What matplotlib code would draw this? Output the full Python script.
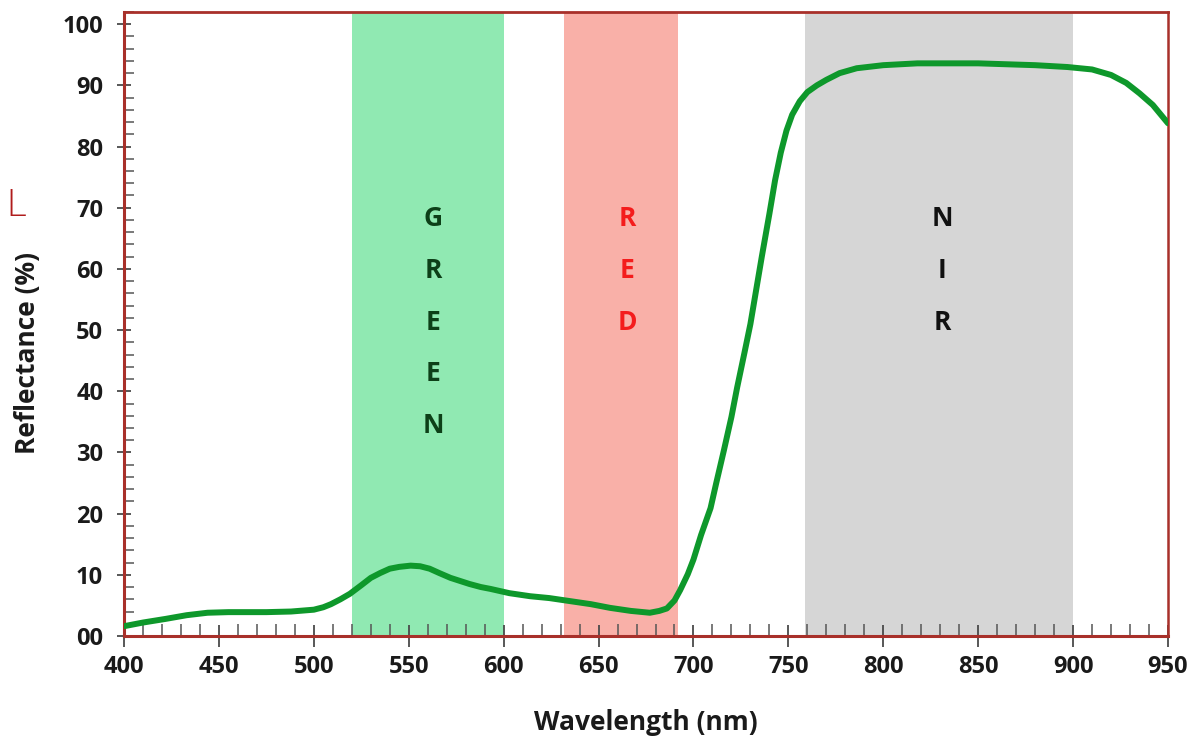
import matplotlib
matplotlib.use("Agg")
import matplotlib.pyplot as plt
from matplotlib.ticker import MultipleLocator, FixedLocator

# ---- data ----
wavelength = [400, 410, 422, 433, 444, 455, 465, 475, 488, 500, 505, 509, 514, 519,
              525, 530, 535, 540, 545, 551, 556, 561, 566, 572, 577, 582, 588, 593,
              603, 614, 624, 635, 646, 656, 667, 677, 682, 686, 690, 693, 697, 700,
              704, 709, 712, 716, 720, 723, 727, 730, 733, 736, 740, 743, 746, 749,
              752, 756, 760, 765, 770, 777, 786, 800, 818, 850, 880, 897, 910, 920,
              928, 935, 942, 950]
reflectance = [1.6, 2.2, 2.8, 3.4, 3.8, 3.9, 3.9, 3.9, 4.0, 4.3, 4.7, 5.2, 6.0, 6.9,
               8.3, 9.5, 10.3, 11.0, 11.3, 11.5, 11.4, 11.0, 10.3, 9.5, 9.0, 8.5, 8.0, 7.7,
               7.0, 6.5, 6.2, 5.7, 5.2, 4.6, 4.1, 3.8, 4.1, 4.5, 5.8, 7.5, 10.1, 12.5,
               16.5, 20.9, 25.0, 30.3, 35.8, 40.6, 46.5, 51.0, 56.5, 62.0, 69.0, 74.5, 79.0, 82.6,
               85.2, 87.4, 88.9, 90.0, 90.9, 92.0, 92.8, 93.3, 93.6, 93.6, 93.3, 93.0, 92.6, 91.7,
               90.4, 88.7, 86.8, 83.8]

bands = [(520, 600), (632, 692), (759, 900)]
band_colors = ["#90e9b2", "#f9b0a8", "#d6d6d6"]
band_labels = ["GREEN", "RED", "NIR"]
band_label_x = [563, 665, 831]
band_label_colors = ["#0d3f18", "#f41c1c", "#111111"]

x_ticks = [400, 450, 500, 550, 600, 650, 700, 750, 800, 850, 900, 950]
y_ticks = [0, 10, 20, 30, 40, 50, 60, 70, 80, 90, 100]
y_tick_labels = ["00", "10", "20", "30", "40", "50", "60", "70", "80", "90", "100"]

# ---- figure ----
plt.rcParams['font.family'] = ['Open Sans', 'DejaVu Sans']
fig = plt.figure(figsize=(12.03, 7.47), dpi=100)
ax = fig.add_axes([0.1031, 0.1486, 0.8678, 0.8354])

for (x0, x1), c in zip(bands, band_colors):
    ax.axvspan(x0, x1, color=c, lw=0, zorder=0)

ax.plot(wavelength, reflectance, color="#0e982b", lw=4.3, solid_capstyle="round",
        solid_joinstyle="round", zorder=3)

# vertical letters in bands
letter_y_top = 68.2
letter_step = 8.45
for lab, xc, col in zip(band_labels, band_label_x, band_label_colors):
    for i, ch in enumerate(lab):
        ax.text(xc, letter_y_top - i * letter_step, ch, ha="center", va="center",
                fontsize=19, fontweight="bold", color=col, zorder=4)

ax.set_xlim(400, 950)
ax.set_ylim(0, 102)

ax.xaxis.set_major_locator(FixedLocator(x_ticks))
ax.xaxis.set_minor_locator(MultipleLocator(10))
ax.yaxis.set_major_locator(FixedLocator(y_ticks))
ax.yaxis.set_minor_locator(MultipleLocator(2))
ax.set_yticklabels(y_tick_labels)

spine_col = "#a8302a"
for s in ax.spines.values():
    s.set_color(spine_col)
    s.set_linewidth(2.2)
ax.spines["top"].set_linewidth(2.0)
ax.spines["right"].set_linewidth(1.8)

ax.tick_params(axis="x", which="major", direction="inout", length=16, width=1.3,
               color="#4a4a4a", labelsize=17, pad=6)
ax.tick_params(axis="x", which="minor", direction="in", length=9, width=1.1,
               color="#555555")
ax.tick_params(axis="y", which="major", direction="inout", length=10, width=1.3,
               color="#4a4a4a", labelsize=17, pad=10)
ax.tick_params(axis="y", which="minor", direction="in", length=7, width=1.1,
               color="#555555")
for lab in ax.get_xticklabels() + ax.get_yticklabels():
    lab.set_fontweight("bold")
    lab.set_color("#1a1a1a")

fig.text(0.537, 0.033, "Wavelength (nm)", ha="center", va="center",
         fontsize=19, fontweight="bold", color="#1a1a1a")
fig.text(0.023, 0.527, "Reflectance (%)", ha="center", va="center", rotation=90,
         fontsize=19, fontweight="bold", color="#1a1a1a")
fig.text(0.0135, 0.725, "L", ha="center", va="center", fontsize=27,
         color="#b01c1c", family="DejaVu Sans", fontweight="light")

fig.savefig("out.png", dpi=100)
